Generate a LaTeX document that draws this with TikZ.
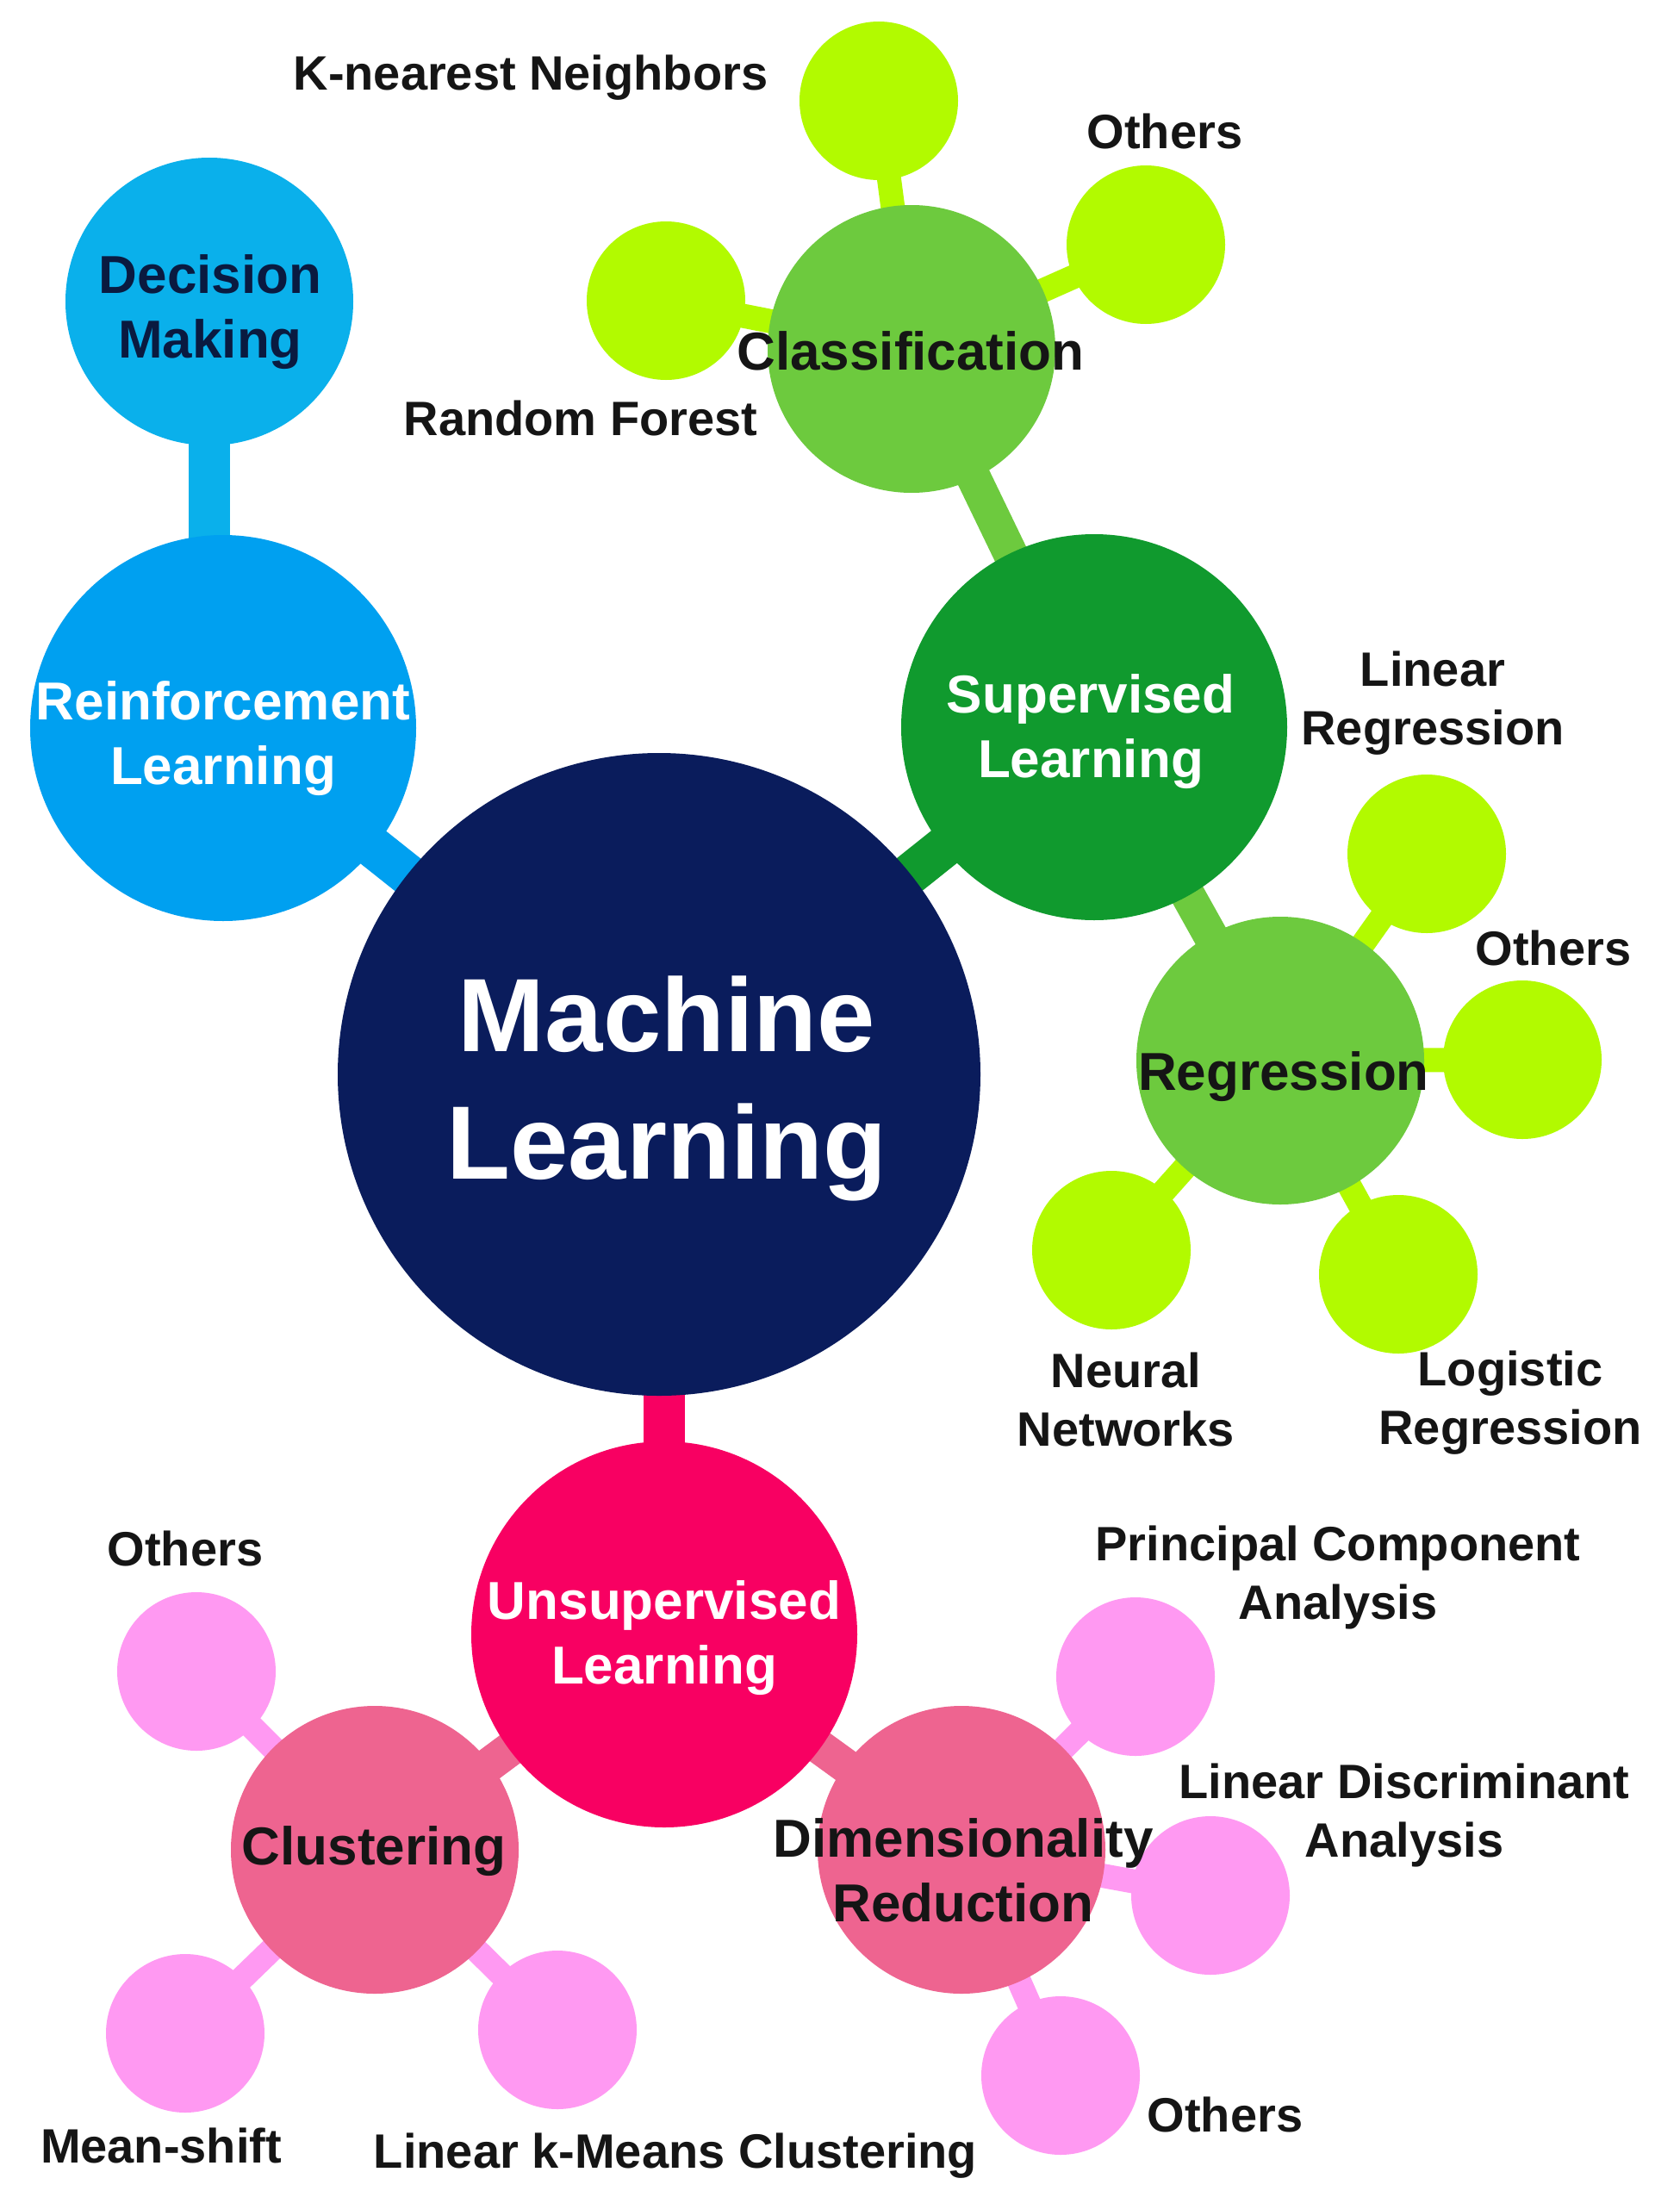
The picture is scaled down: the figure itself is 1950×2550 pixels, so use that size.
\documentclass[tikz,border=0pt]{standalone}
\usepackage{fontspec}
\setmainfont{Liberation Sans}
\usetikzlibrary{backgrounds}
\definecolor{mlnavy}{HTML}{0A1C5C}
\definecolor{rlblue}{HTML}{00A0F0}
\definecolor{dmblue}{HTML}{0AB0EB}
\definecolor{slgreen}{HTML}{109A2E}
\definecolor{midgreen}{HTML}{6DCA3E}
\definecolor{limegreen}{HTML}{B2FA00}
\definecolor{unpink}{HTML}{F80062}
\definecolor{midpink}{HTML}{EE6490}
\definecolor{leafpink}{HTML}{FF99F2}
\definecolor{dmtext}{HTML}{0A1A40}
\definecolor{darktext}{HTML}{151515}
\begin{document}
\begin{tikzpicture}[x=1pt,y=-1pt,
  ball/.style={circle,inner sep=0pt,draw=none},
  bigball/.style={ball,minimum size=746pt,fill=mlnavy},
  mainball/.style={ball,minimum size=448pt},
  midball/.style={ball,minimum size=334pt},
  leafball/.style={ball,minimum size=184pt},
  mainlink/.style={line width=48pt},
  midlink/.style={line width=40pt},
  leaflink/.style={line width=28pt},
  mllbl/.style={font=\fontsize{121}{148}\selectfont\bfseries,align=center,inner sep=0pt,text=white},
  lbl/.style={font=\fontsize{62}{75}\selectfont\bfseries,align=center,inner sep=0pt},
  leaflbl/.style={font=\fontsize{56}{68}\selectfont\bfseries,align=center,inner sep=0pt,text=darktext}]
\path[use as bounding box] (0,0) rectangle (1950,2550);
% main circles
\node[bigball] (ml) at (765,1247) {};
\node[mainball,fill=rlblue] (rl) at (259,845) {};
\node[midball,fill=dmblue] (dm) at (243,350) {};
\node[mainball,fill=slgreen] (sl) at (1270,844) {};
\node[midball,fill=midgreen] (cls) at (1058,405) {};
\node[midball,fill=midgreen] (reg) at (1486,1231) {};
\node[mainball,fill=unpink] (un) at (771,1897) {};
\node[midball,fill=midpink] (clu) at (435,2147) {};
\node[midball,fill=midpink] (dr) at (1116,2147) {};
% leaves
\node[leafball,fill=limegreen] (knn) at (1020,117) {};
\node[leafball,fill=limegreen] (coth) at (1330,284) {};
\node[leafball,fill=limegreen] (rf) at (773,349) {};
\node[leafball,fill=limegreen] (lr) at (1656,991) {};
\node[leafball,fill=limegreen] (roth) at (1767,1230) {};
\node[leafball,fill=limegreen] (logr) at (1623,1479) {};
\node[leafball,fill=limegreen] (nn) at (1290,1451) {};
\node[leafball,fill=leafpink] (cloth) at (228,1940) {};
\node[leafball,fill=leafpink] (ms) at (215,2360) {};
\node[leafball,fill=leafpink] (km) at (647,2356) {};
\node[leafball,fill=leafpink] (pca) at (1318,1946) {};
\node[leafball,fill=leafpink] (lda) at (1405,2200) {};
\node[leafball,fill=leafpink] (doth) at (1231,2409) {};
% connectors
\begin{pgfonlayer}{background}
\fill[white] (0,0) rectangle (1950,2550);
\draw[mainlink,dmblue] (dm.center) -- (dm.center |- rl.center);
\draw[mainlink,rlblue] (rl.center) -- (ml.center);
\draw[mainlink,slgreen] (ml.center) -- (sl.center);
\draw[mainlink,unpink] (un.center) -- (un.center |- ml.center);
\draw[midlink,midgreen] (sl.center) -- (cls.center);
\draw[midlink,midgreen] (sl.center) -- (reg.center);
\draw[midlink,midpink] (un.center) -- (clu.center);
\draw[midlink,midpink] (un.center) -- (dr.center);
\foreach \a in {knn,coth,rf} \draw[leaflink,limegreen] (cls.center) -- (\a.center);
\foreach \a in {lr,roth,logr,nn} \draw[leaflink,limegreen] (reg.center) -- (\a.center);
\foreach \a in {cloth,ms,km} \draw[leaflink,leafpink] (clu.center) -- (\a.center);
\foreach \a in {pca,lda,doth} \draw[leaflink,leafpink] (dr.center) -- (\a.center);
\end{pgfonlayer}
% labels
\node[mllbl] (tml) at (774,1263) {Machine\\Learning};
\node[lbl,text=dmtext] (tdm) at (244,362) {Decision\\Making};
\node[lbl,text=white] (trl) at (259,857) {Reinforcement\\Learning};
\node[lbl,text=white] (tsl) at (1266,849) {Supervised\\Learning};
\node[lbl,text=darktext] (tcls) at (1057,407) {Classification};
\node[lbl,text=darktext] (treg) at (1490,1250) {Regression};
\node[lbl,text=white] (tun) at (771,1901) {Unsupervised\\Learning};
\node[lbl,text=darktext] (tclu) at (434,2149) {Clustering};
\node[lbl,text=darktext] (tdr) at (1118,2171) {Dimensionality\\Reduction};
\node[leaflbl] (tknn) at (616,90) {K-nearest Neighbors};
\node[leaflbl] (tcoth) at (1352,152) {Others};
\node[leaflbl] (trf) at (674,485) {Random Forest};
\node[leaflbl] (tlr) at (1663,816) {Linear\\Regression};
\node[leaflbl] (troth) at (1803,1100) {Others};
\node[leaflbl] (tnn) at (1307,1624) {Neural\\Networks};
\node[leaflbl] (tlogr) at (1753,1628) {Logistic\\Regression};
\node[leaflbl] (tcloth) at (215,1797) {Others};
\node[leaflbl] (tpca) at (1553,1831) {Principal Component\\Analysis};
\node[leaflbl] (tlda) at (1630,2107) {Linear Discriminant\\Analysis};
\node[leaflbl] (tdoth) at (1422,2454) {Others};
\node[leaflbl] (tms) at (187,2490) {Mean-shift};
\node[leaflbl] (tkm) at (784,2502) {Linear k-Means Clustering};
\end{tikzpicture}
\end{document}
